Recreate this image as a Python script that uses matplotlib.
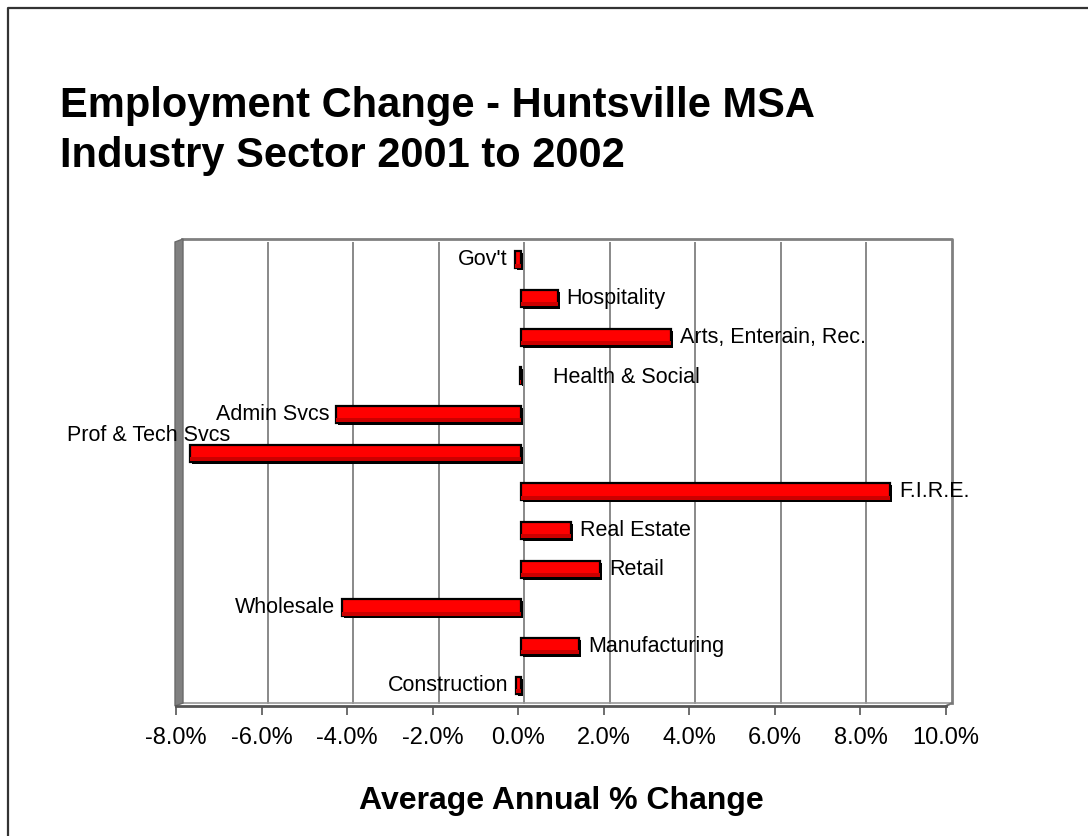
import matplotlib
matplotlib.use('Agg')
import matplotlib.pyplot as plt
from matplotlib.lines import Line2D
from matplotlib.patches import Polygon
from matplotlib.transforms import ScaledTranslation, blended_transform_factory
from matplotlib.ticker import FuncFormatter

plt.rcParams['font.family'] = ['Liberation Sans', 'DejaVu Sans']

# sectors listed from the bottom of the chart to the top
sectors = ['Construction', 'Manufacturing', 'Wholesale', 'Retail', 'Real Estate',
           'F.I.R.E.', 'Prof & Tech Svcs', 'Admin Svcs', 'Health & Social',
           'Arts, Enterain, Rec.', 'Hospitality', "Gov't"]
pct_change = [-0.13, 1.35, -4.2, 1.84, 1.16, 8.62, -7.75, -4.32, -0.04, 3.5, 0.85, -0.15]
x_ticks = [-8, -6, -4, -2, 0, 2, 4, 6, 8, 10]

W, H = 1088, 836
fig = plt.figure(figsize=(W / 100, H / 100), dpi=100)
ax = fig.add_axes([176 / W, 1 - 706 / H, 770 / W, 464 / H])
ax.set_autoscale_on(False)
ax.set_xlim(-8, 10)
ax.set_ylim(-0.5, len(sectors) - 0.5)
for s in ax.spines.values():
    s.set_visible(False)
ax.patch.set_alpha(0)


def px(dx, dy):
    return ScaledTranslation(dx / 100, dy / 100, fig.dpi_scale_trans)


# back wall and gridlines, pushed back a little for the 3-D look
xa = blended_transform_factory(ax.transData, ax.transAxes)
back = xa + px(6, 3)
for t in x_ticks[1:-1]:
    ax.plot([t, t], [0, 1], color='#808080', lw=1.3, transform=back, zorder=1)
ax.plot([-8, 10, 10], [1, 1, 0], color='#808080', lw=2, transform=back,
        clip_on=False, zorder=1)
ax.plot([-8, 10], [0, 0], color='#9a9a9a', lw=1.2, transform=back,
        clip_on=False, zorder=1)

# left side wall
dx, dy = 6 / 770, 3 / 464
ax.add_patch(Polygon([(-1 / 770, 0), (-1 / 770, 1), (dx + 1 / 770, 1 + dy), (dx + 1 / 770, dy)],
                     closed=True, transform=ax.transAxes, facecolor='#808080',
                     edgecolor='#6a6a6a', lw=1, clip_on=False, zorder=2))

# front floor edge
ax.plot([-8, 10], [0, 0], color='#555555', lw=2, transform=xa, clip_on=False, zorder=3)
floor_edge = Line2D([1, 1 + dx], [0, dy], color='#777777', lw=1.5,
                    transform=ax.transAxes, clip_on=False)
ax.add_line(floor_edge)

# bars: dark offset copy for the depth, red face on top
ypos = list(range(len(sectors)))
bar_tr = ax.transData + px(3, 1.5)
bh = 0.44
ax.barh(ypos, pct_change, height=bh, color='black', transform=bar_tr + px(2, -2), zorder=4)
ax.barh(ypos, pct_change, height=bh, color='#ff0000', edgecolor='black', lw=1.6,
        transform=bar_tr, zorder=5)
ax.barh([y - bh / 2 + 0.07 for y in ypos], pct_change, height=0.1, color='#cc0000',
        transform=bar_tr, zorder=6)

# bar labels, with a couple moved out of the way
nudges = {'Health & Social': (36, 0, 'left'),
          'Prof & Tech Svcs': (44, 19, 'right')}
for i, (name, v) in enumerate(zip(sectors, pct_change)):
    if name in nudges:
        ox, oy, ha = nudges[name]
    elif v >= 0:
        ox, oy, ha = 12, 1.5, 'left'
    else:
        ox, oy, ha = -4, 1.5, 'right'
    ax.annotate(name, (v, i), xytext=(ox, oy), textcoords='offset pixels',
                ha=ha, va='center', fontsize=15.5, zorder=7, annotation_clip=False)

ax.set_yticks([])
ax.set_xticks(x_ticks)
ax.xaxis.set_major_formatter(FuncFormatter(lambda v, p: f'{v:.1f}%'))
ax.tick_params(axis='x', length=6.5, width=1.2, color='#555555', pad=8.8, labelsize=17)
ax.set_xlabel('Average Annual % Change', fontsize=23, fontweight='bold', labelpad=26.5)

fig.text(60 / W, 1 - 116.7 / H, 'Employment Change - Huntsville MSA',
         fontsize=30, fontweight='bold', va='baseline')
fig.text(60 / W, 1 - 166.7 / H, 'Industry Sector 2001 to 2002',
         fontsize=30, fontweight='bold', va='baseline')

# outer frame, only the top and left edges show
fig.add_artist(Line2D([7.5 / W, 7.5 / W, 1], [0, 1 - 7.5 / H, 1 - 7.5 / H],
                      transform=fig.transFigure, color='#333333', lw=1.6))

fig.savefig('out.png', dpi=100)
